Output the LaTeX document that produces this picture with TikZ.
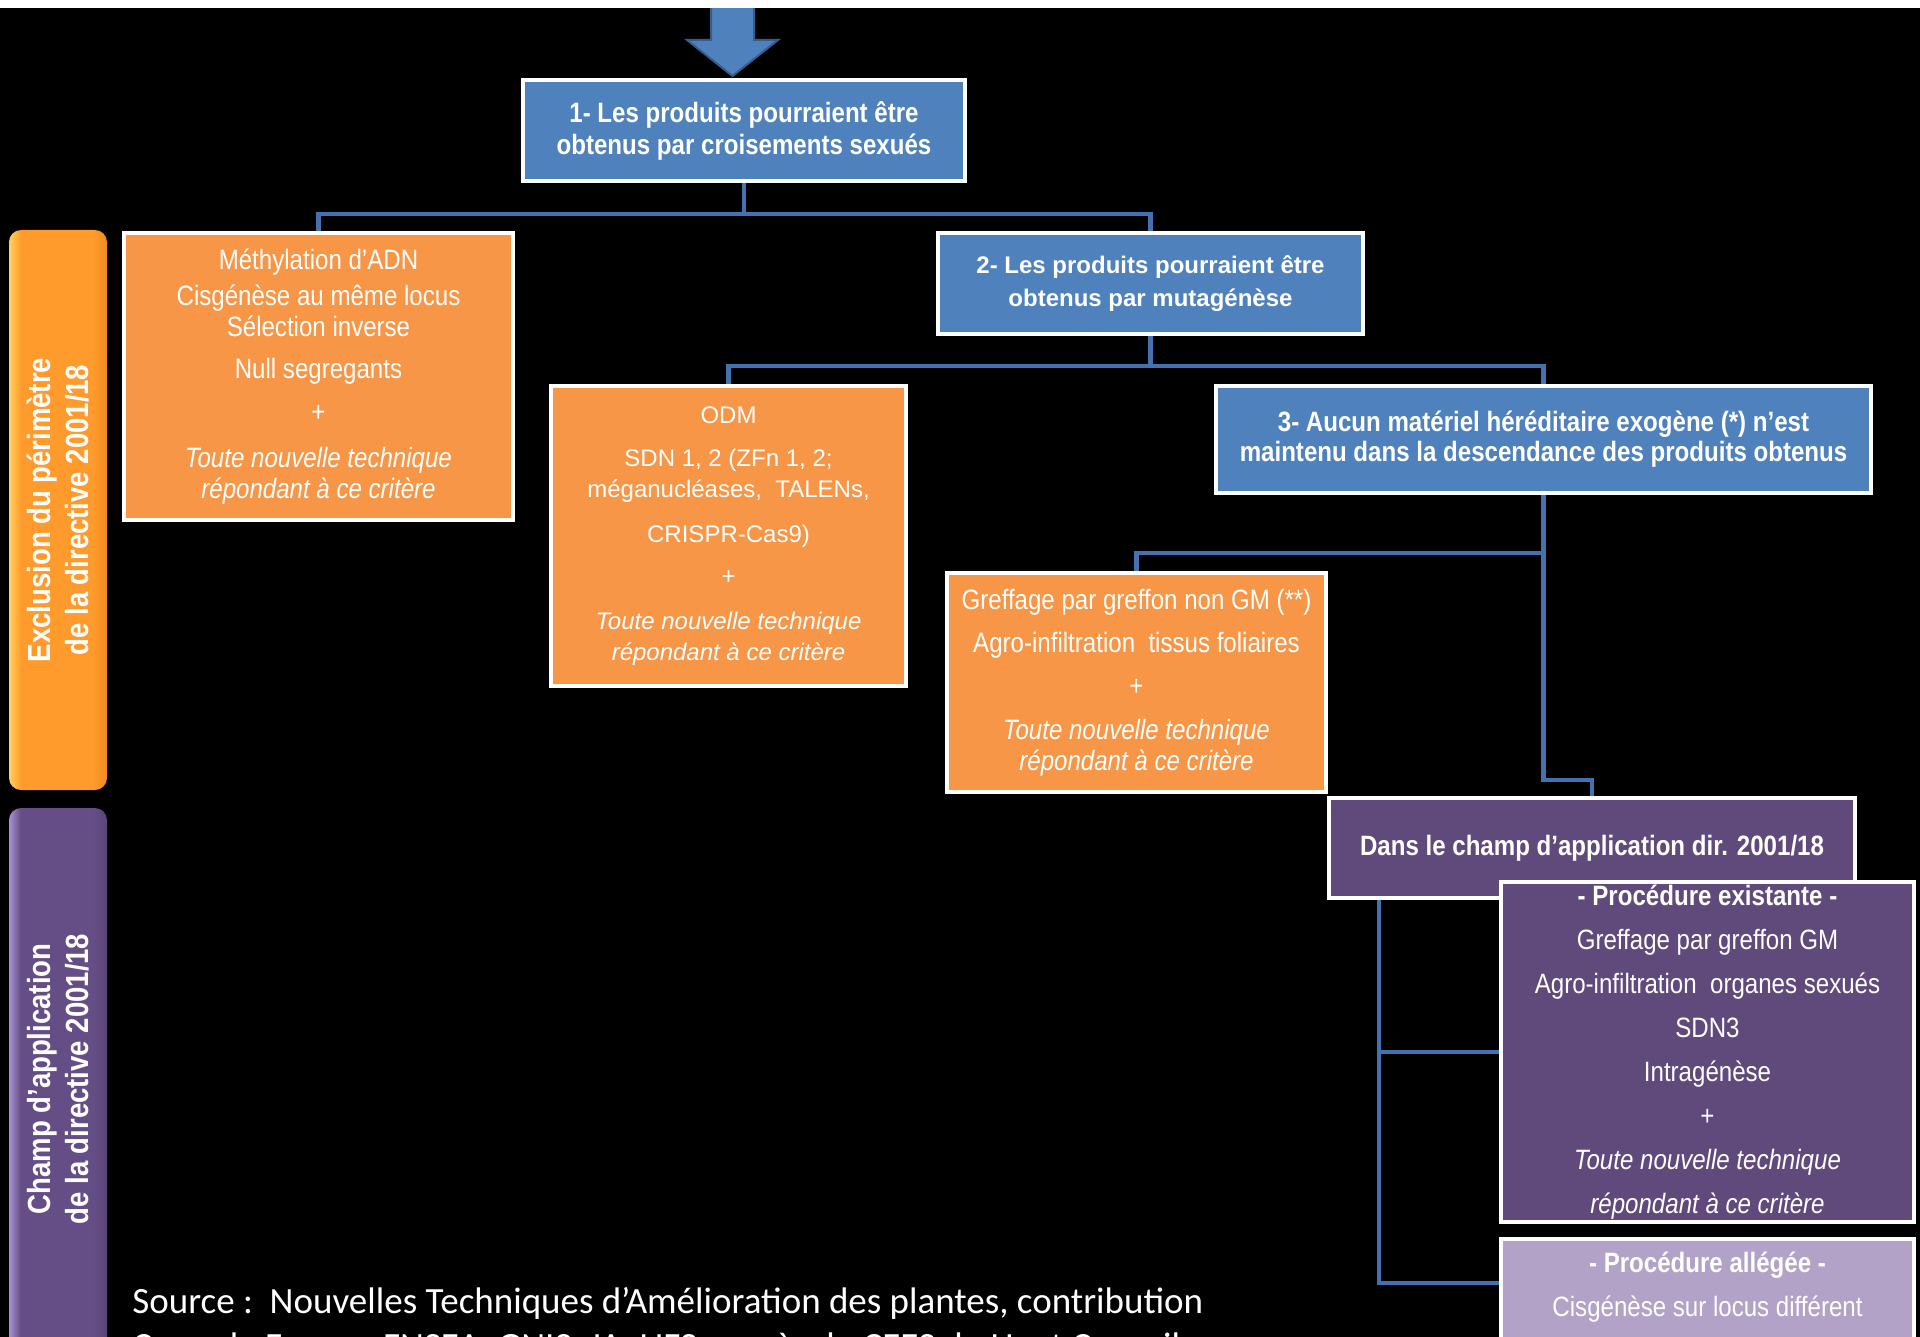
\documentclass[tikz,border=0pt]{standalone}
\usepackage{fontspec}
\setmainfont{Liberation Sans}
\newfontfamily\narrowfont{Liberation Sans}[FakeStretch=0.86]
\newfontfamily\sourcefont{Carlito}
\usetikzlibrary{calc}

\definecolor{critblue}{HTML}{4F81BD}
\definecolor{linkblue}{HTML}{4272B0}
\definecolor{arrowedge}{HTML}{385D8A}
\definecolor{techorange}{HTML}{F79646}
\definecolor{champpurple}{HTML}{604A7B}
\definecolor{legerpurple}{HTML}{B3A2C7}
\definecolor{bandorange}{HTML}{FF9A2C}
\definecolor{bandorangelight}{HTML}{FFD35C}
\definecolor{bandorangedark}{HTML}{F08A20}
\definecolor{bandpurple}{HTML}{644E85}
\definecolor{bandpurplelight}{HTML}{A894D2}
\definecolor{bandpurpledark}{HTML}{5A4678}

\pgfdeclarehorizontalshading{orangeband}{100bp}{color(0bp)=(bandorangelight); color(25bp)=(bandorangelight); color(31bp)=(bandorange); color(68bp)=(bandorange); color(75bp)=(bandorangedark); color(100bp)=(bandorangedark)}
\pgfdeclarehorizontalshading{purpleband}{100bp}{color(0bp)=(bandpurplelight); color(25bp)=(bandpurplelight); color(31bp)=(bandpurple); color(68bp)=(bandpurple); color(75bp)=(bandpurpledark); color(100bp)=(bandpurpledark)}

\begin{document}
\begin{tikzpicture}[
  x=0.5pt, y=-0.5pt,
  every node/.style={text=white, inner sep=0pt},
  crit/.style={draw=white, line width=1.75pt, fill=critblue, align=center, font=\narrowfont\bfseries\fontsize{14}{16}\selectfont},
  tech/.style={draw=white, line width=1.75pt, fill=techorange, align=center, font=\narrowfont\fontsize{14}{15.5}\selectfont},
  champ/.style={draw=white, line width=1.75pt, fill=champpurple, align=center, font=\narrowfont\fontsize{14}{22}\selectfont},
  leger/.style={draw=white, line width=1.75pt, fill=legerpurple, align=center, font=\narrowfont\fontsize{14}{22}\selectfont},
  band/.style={rounded corners=6pt, rotate=90, align=center, minimum height=49pt, font=\narrowfont\bfseries\fontsize{16}{19}\selectfont},
  conn/.style={draw=linkblue, line width=2.2pt},
  bigarrow/.style={draw=arrowedge, line width=1pt, fill=critblue, line join=miter}
]
\useasboundingbox (0,0) rectangle (1920,1337);
\clip (0,0) rectangle (1920,1337);
\fill[black] (0,0) rectangle (1920,1337);

% side bands
\node[band, shading=orangeband, minimum width=280pt] (exclband) at (58,510) {Exclusion du périmètre\\de la directive 2001/18};
\node[band, shading=purpleband, minimum width=271pt] (champband) at (58,1079) {Champ d’application\\de la directive 2001/18};

% criteria
\node[crit, minimum width=221pt, minimum height=50.5pt] (q1) at (744,130.5) {1- Les produits pourraient être\\obtenus par croisements sexués};
\node[crit, minimum width=212.5pt, minimum height=50.5pt, font=\bfseries\fontsize{12}{16.5}\selectfont] (q2) at (1150.5,283.5) {2- Les produits pourraient être\\obtenus par mutagénèse};
\node[crit, minimum width=327.5pt, minimum height=53.5pt, font=\narrowfont\bfseries\fontsize{14}{15}\selectfont] (q3) at (1543.5,439.5) {3- Aucun matériel héréditaire exogène (*) n’est\\maintenu dans la descendance des produits obtenus};

% techniques
\node[tech, minimum width=194.5pt, minimum height=143.5pt] (methyl) at (318.5,376.5) {Méthylation d’ADN\\[2.5pt]
  Cisgénèse au même locus\\
  Sélection inverse\\[5.5pt]
  Null segregants\\[6pt]
  +\\[7.5pt]
  \textit{Toute nouvelle technique}\\
  \textit{répondant à ce critère}};
\node[tech, minimum width=177.5pt, minimum height=150pt, font=\fontsize{12}{15.5}\selectfont] (odm) at (728.5,536) {ODM\\[6pt]
  SDN 1, 2 (ZFn 1, 2;\\
  méganucléases,~ TALENs,\\[7pt]
  CRISPR-Cas9)\\[5.5pt]
  +\\[7pt]
  \textit{Toute nouvelle technique}\\
  \textit{répondant à ce critère}};
\node[tech, minimum width=189.5pt, minimum height=109.5pt] (greffe) at (1136.5,682.5) {Greffage par greffon non GM (**)\\[6pt]
  Agro-infiltration~ tissus foliaires\\[6pt]
  +\\[6.5pt]
  \textit{Toute nouvelle technique}\\
  \textit{répondant à ce critère}};

% champ d'application
\node[champ, minimum width=263pt, minimum height=50pt, font=\narrowfont\bfseries\fontsize{14}{16}\selectfont] (dans) at (1592,848) {Dans le champ d’application dir. 2001/18};
\node[champ, minimum width=206.5pt, minimum height=170pt] (exist) at (1707.5,1052) {\textbf{- Procédure existante -}\\
  Greffage par greffon GM\\
  Agro-infiltration~ organes sexués\\
  SDN3\\
  Intragénèse\\
  +\\
  \textit{Toute nouvelle technique}\\
  \textit{répondant à ce critère}};
\node[leger, anchor=north, minimum width=206.5pt, inner ysep=6.5pt, text depth=40pt] (allege) at (1707.5,1237) {\textbf{- Procédure allégée -}\\
  Cisgénèse sur locus différent};

% connectors
\draw[conn] (q1.south) -- ++(0,31) -| (methyl.north);
\draw[conn] (q1.south) -- ++(0,31) -| (q2.north);
\draw[conn] (q2.south) -- ++(0,30) -| (odm.north);
\draw[conn] (q2.south) -- ++(0,30) -| (q3.north);
\draw[conn] (q3.south) -- ++(0,58) -| (greffe.north);
\draw[conn] (q3.south) -- ++(0,285) -| (dans.north);
\draw[conn] ([xshift=26pt]dans.south west) |- (exist.west);
\draw[conn] ([xshift=26pt]dans.south west) |- ([yshift=-23pt]allege.north west);

% entry arrow
\draw[bigarrow] (711,-5) -- (754,-5) -- (754,40) -- (778,40) -- (732.5,76) -- (687,40) -- (711,40) -- cycle;

% source
\node[anchor=north west, align=left, font=\sourcefont\fontsize{18.5}{22.5}\selectfont] (source) at (132,1287) {Source :~~Nouvelles Techniques d’Amélioration des plantes, contribution\\
  Coop de France, FNSEA, GNIS, JA, UFS auprès du CEES du Haut Conseil};

\fill[white] (0,0) rectangle (1920,8);
\end{tikzpicture}
\end{document}
